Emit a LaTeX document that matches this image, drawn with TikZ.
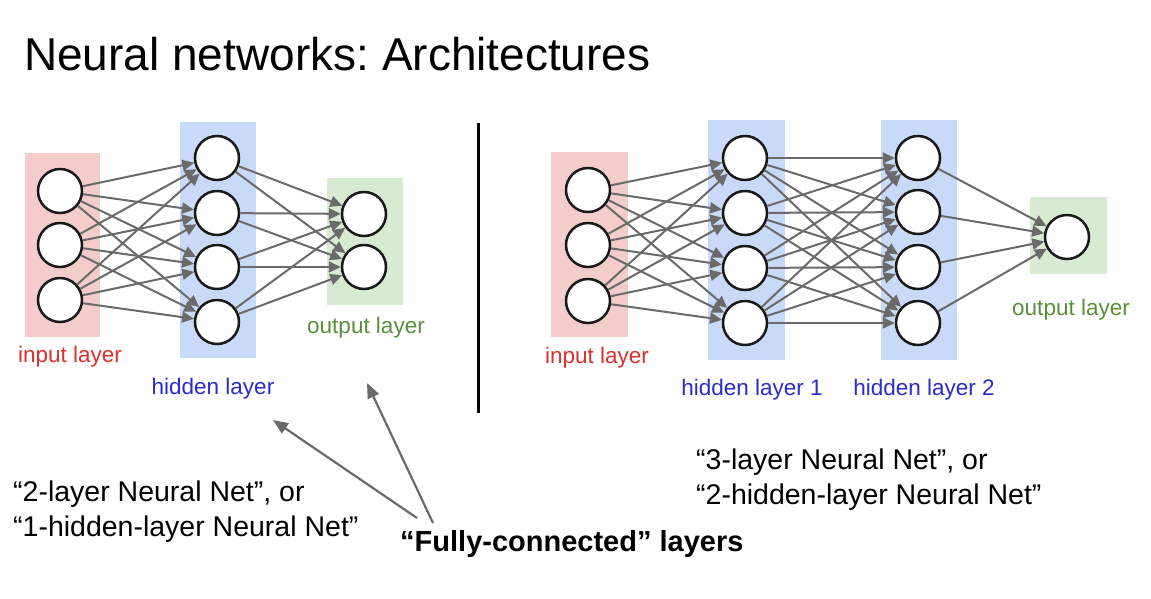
\documentclass[tikz,border=0pt]{standalone}
\usepackage{fontspec}
\setmainfont{Liberation Sans}
\usepackage{xcolor}
\usepackage{tikz}
\usetikzlibrary{positioning,calc,arrows.meta}
\frenchspacing

\definecolor{inred}{HTML}{F4CCCC}
\definecolor{hidblue}{HTML}{C9DAF8}
\definecolor{outgreen}{HTML}{D9EAD3}
\definecolor{redtext}{HTML}{DC2F2F}
\definecolor{bluetext}{HTML}{2B2BCF}
\definecolor{greentext}{HTML}{5A8F3C}
\definecolor{wiregray}{HTML}{6A6A6A}

\tikzset{
    neuron/.style={circle, draw=black!90, line width=2.5pt, fill=white, minimum size=44pt, inner sep=0pt},
    wire/.style={draw=wiregray, line width=2pt, -{Triangle[length=12pt,width=11pt]}},
    pointer/.style={draw=wiregray, line width=2.2pt, -{Triangle[length=15pt,width=12pt]}},
    lbl/.style={font=\fontsize{22.5}{26}\selectfont, inner sep=0pt},
    note/.style={font=\fontsize{28.5}{35}\selectfont, align=left, inner sep=0pt},
}

\begin{document}
\begin{tikzpicture}[x=1pt,y=-1pt]
    \useasboundingbox[fill=white] (0,0) rectangle (1151,598);

    \node[anchor=west, inner sep=0pt, font=\fontsize{46}{55}\selectfont] (title) at (24,54) {Neural networks: Architectures};

    % 2-layer net (left)
    \fill[inred] (25,153) rectangle (100,337);
    \fill[hidblue] (180,122) rectangle (256,358);
    \fill[outgreen] (327,178) rectangle (403,305);
    \foreach \y [count=\k] in {191,245,300} \node[neuron] (i\k) at (60,\y) {};
    \foreach \y [count=\k] in {158,213,267,322} \node[neuron] (h\k) at (217,\y) {};
    \foreach \y [count=\k] in {214,267} \node[neuron] (o\k) at (364,\y) {};
    \foreach \a in {1,...,3} \foreach \b in {1,...,4} \draw[wire] (i\a) -- (h\b);
    \foreach \a in {1,...,4} \foreach \b in {1,2} \draw[wire] (h\a) -- (o\b);
    \node[lbl, text=redtext] (inlbl) at (70,357) {input layer};
    \node[lbl, text=bluetext] (hidlbl) at (213,389) {hidden layer};
    \node[lbl, text=greentext] (outlbl) at (366,328) {output layer};

    \draw[line width=3pt] (478,123) -- (478,413); % divider

    % 3-layer net (right)
    \fill[inred] (551,152) rectangle (628,337);
    \fill[hidblue] (708,120) rectangle (785,360);
    \fill[hidblue] (881,120) rectangle (957,360);
    \fill[outgreen] (1030,197) rectangle (1107,274);
    \foreach \y [count=\k] in {190,245,301} \node[neuron] (ri\k) at (588,\y) {};
    \foreach \y [count=\k] in {158,213,268,323} \node[neuron] (ra\k) at (745,\y) {};
    \foreach \y [count=\k] in {158,212,267,323} \node[neuron] (rb\k) at (918,\y) {};
    \node[neuron] (ro) at (1067,237) {};
    \foreach \a in {1,...,3} \foreach \b in {1,...,4} \draw[wire] (ri\a) -- (ra\b);
    \foreach \a in {1,...,4} \foreach \b in {1,...,4} \draw[wire] (ra\a) -- (rb\b);
    \foreach \a in {1,...,4} \draw[wire] (rb\a) -- (ro);
    \node[lbl, text=redtext] (rinlbl) at (597,358) {input layer};
    \node[lbl, text=bluetext] (ralbl) at (752,390) {hidden layer 1};
    \node[lbl, text=bluetext] (rblbl) at (924,390) {hidden layer 2};
    \node[lbl, text=greentext] (routlbl) at (1071,310) {output layer};

    % captions
    \node[note, anchor=north west] (twolayer) at (13,481) {“2-layer Neural Net”, or\\“1-hidden-layer Neural Net”};
    \node[note, anchor=north west] (threelayer) at (696,449) {“3-layer Neural Net”, or\\“2-hidden-layer Neural Net”};
    \node[note, anchor=west, font=\fontsize{29}{34}\selectfont\bfseries] (fc) at (400,544) {“Fully-connected” layers};

    \coordinate (fcA) at (417,518);
    \coordinate (fcB) at (433,523);
    \coordinate (tipA) at (273,420);
    \coordinate (tipB) at (367,383);
    \draw[pointer] (fcA) -- (tipA);
    \draw[pointer] (fcB) -- (tipB);
\end{tikzpicture}
\end{document}
